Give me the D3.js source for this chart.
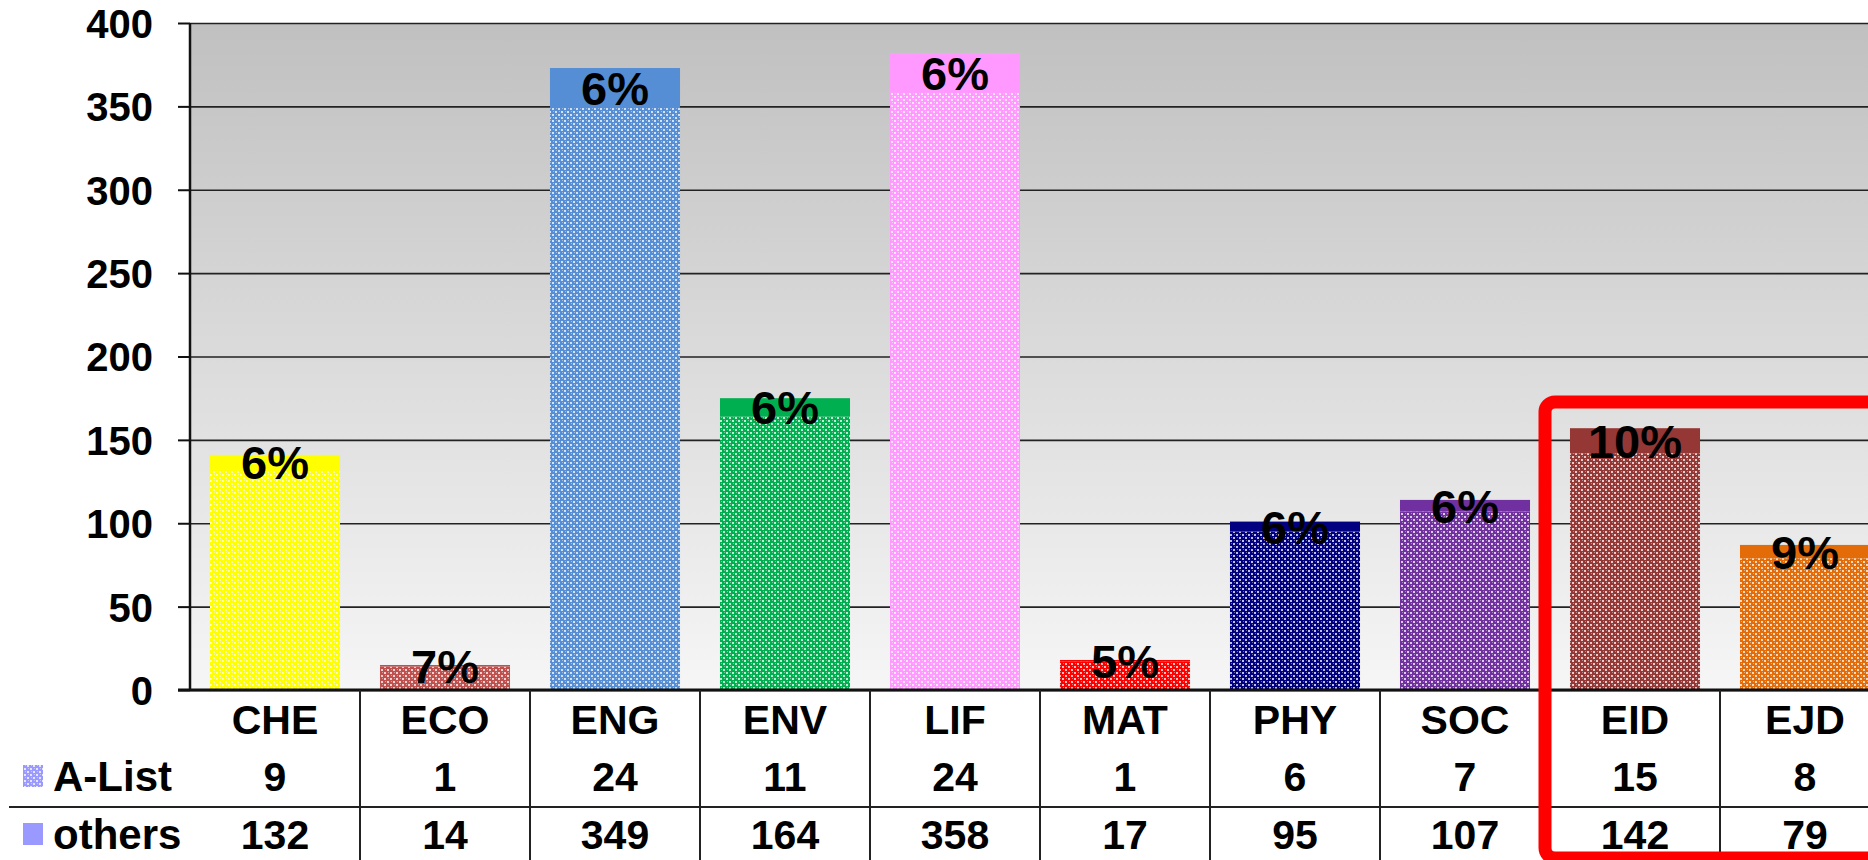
<!DOCTYPE html>
<html>
<head>
<meta charset="utf-8">
<script src="https://cdn.jsdelivr.net/npm/d3@7"></script>
<style>
  html, body { margin: 0; padding: 0; background: #fff; overflow: hidden; }
  svg { display: block; font-family: "Liberation Sans", Arial, sans-serif; font-weight: bold; }
</style>
</head>
<body>
<div id="chart"></div>
<script>
// data
const categories = ["CHE", "ECO", "ENG", "ENV", "LIF", "MAT", "PHY", "SOC", "EID", "EJD"];
const aList = [9, 1, 24, 11, 24, 1, 6, 7, 15, 8];
const others = [132, 14, 349, 164, 358, 17, 95, 107, 142, 79];
const pctLabels = ["6%", "7%", "6%", "6%", "6%", "5%", "6%", "6%", "10%", "9%"];
const barColors = ["#ffff00", "#c0504d", "#558ed5", "#00b050", "#ff99ff", "#ff0000", "#000080", "#7030a0", "#953735", "#e36c09"];
const yTicks = [0, 50, 100, 150, 200, 250, 300, 350, 400];
const seriesNames = ["A-List", "others"];
const highlighted = ["EID", "EJD"];

(function() {
    const W = 1868, H = 860;
    const plot = { left: 190, right: 1890, top: 23, bottom: 690 };

    const svg = d3.select("#chart").append("svg")
        .attr("width", W)
        .attr("height", H);

    const defs = svg.append("defs");

    const grad = defs.append("linearGradient")
        .attr("id", "bg")
        .attr("x1", 0).attr("y1", 0).attr("x2", 0).attr("y2", 1);
    grad.append("stop").attr("offset", "0%").attr("stop-color", "#c0c0c0");
    grad.append("stop").attr("offset", "100%").attr("stop-color", "#f6f6f6");

    // dotted fill used for the "others" part of every bar
    const makePattern = (id, color) => {
        const p = defs.append("pattern")
            .attr("id", id)
            .attr("patternUnits", "userSpaceOnUse")
            .attr("width", 6).attr("height", 6);
        p.append("rect").attr("width", 6).attr("height", 6).attr("fill", color);
        [[0, 0], [3, 3]].forEach(([px, py]) => {
            p.append("rect").attr("x", px).attr("y", py)
                .attr("width", 2).attr("height", 2)
                .attr("fill", "#fff").attr("opacity", 0.75);
        });
        [[1, 3], [4, 0]].forEach(([px, py]) => {
            p.append("rect").attr("x", px).attr("y", py)
                .attr("width", 1).attr("height", 1)
                .attr("fill", "#fff").attr("opacity", 0.4);
        });
    };
    barColors.forEach((c, i) => makePattern("pat" + i, c));
    makePattern("patLegend", "#9999ff");

    const x = d3.scaleBand()
        .domain(categories)
        .range([plot.left, plot.right])
        .paddingInner(0.235)
        .paddingOuter(0.1175);

    const y = d3.scaleLinear()
        .domain([0, 400])
        .range([plot.bottom, plot.top]);

    // plot background
    svg.append("rect")
        .attr("x", plot.left).attr("y", plot.top)
        .attr("width", plot.right - plot.left)
        .attr("height", plot.bottom - plot.top)
        .attr("fill", "url(#bg)");

    // gridlines
    svg.append("g")
        .attr("transform", "translate(" + plot.left + ",0)")
        .call(d3.axisLeft(y).tickValues(yTicks).tickSize(-(plot.right - plot.left)).tickFormat(""))
        .call(g => g.select(".domain").remove())
        .selectAll("line")
        .attr("stroke", "#222")
        .attr("stroke-width", 1.6);

    // bars: others at the bottom (dotted), A-List on top (solid)
    const rows = categories.map((c, i) => ({
        cat: c, i: i, a: aList[i], o: others[i], label: pctLabels[i]
    }));

    const bars = svg.append("g").selectAll("g")
        .data(rows)
        .join("g");

    bars.append("rect")
        .attr("x", d => x(d.cat))
        .attr("y", d => y(d.o))
        .attr("width", x.bandwidth())
        .attr("height", d => y(0) - y(d.o))
        .attr("fill", d => "url(#pat" + d.i + ")");

    bars.append("rect")
        .attr("x", d => x(d.cat))
        .attr("y", d => y(d.o + d.a))
        .attr("width", x.bandwidth())
        .attr("height", d => y(d.o) - y(d.o + d.a))
        .attr("fill", d => barColors[d.i]);

    bars.append("text")
        .attr("x", d => x(d.cat) + x.bandwidth() / 2)
        .attr("y", d => (y(d.o) + y(d.o + d.a)) / 2 + 17)
        .attr("text-anchor", "middle")
        .attr("font-size", 47)
        .attr("fill", "#000")
        .text(d => d.label);

    // y axis
    const yAxis = svg.append("g")
        .attr("transform", "translate(" + plot.left + ",0)")
        .call(d3.axisLeft(y).tickValues(yTicks).tickSize(12).tickPadding(25));
    yAxis.select(".domain").attr("stroke", "#111").attr("stroke-width", 2.5)
        .attr("d", "M0," + plot.top + "V" + plot.bottom);
    yAxis.selectAll(".tick line").attr("stroke", "#111").attr("stroke-width", 2);
    yAxis.selectAll("text")
        .attr("font-size", 40)
        .attr("font-family", "'Liberation Sans', Arial, sans-serif")
        .attr("font-weight", "bold")
        .attr("fill", "#000")
        .attr("dy", "0.36em");

    // x axis line (table top)
    svg.append("line")
        .attr("x1", plot.left - 12).attr("x2", W)
        .attr("y1", plot.bottom).attr("y2", plot.bottom)
        .attr("stroke", "#111").attr("stroke-width", 3);

    // data table
    const rowY = { cat: 734, a: 791, o: 849 };
    const step = x.step();
    const table = svg.append("g");

    table.selectAll(".sep")
        .data(categories.slice(1))
        .join("line")
        .attr("x1", d => x(d) - x.paddingInner() * step / 2)
        .attr("x2", d => x(d) - x.paddingInner() * step / 2)
        .attr("y1", plot.bottom).attr("y2", H)
        .attr("stroke", "#222").attr("stroke-width", 2);

    table.append("line")
        .attr("x1", 9).attr("x2", W)
        .attr("y1", 807).attr("y2", 807)
        .attr("stroke", "#222").attr("stroke-width", 2);

    const cx = d => x(d.cat) + x.bandwidth() / 2;
    table.selectAll(".cat").data(rows).join("text")
        .attr("x", cx).attr("y", rowY.cat)
        .attr("text-anchor", "middle").attr("font-size", 41)
        .text(d => d.cat);
    table.selectAll(".va").data(rows).join("text")
        .attr("x", cx).attr("y", rowY.a)
        .attr("text-anchor", "middle").attr("font-size", 41)
        .text(d => d.a);
    table.selectAll(".vo").data(rows).join("text")
        .attr("x", cx).attr("y", rowY.o)
        .attr("text-anchor", "middle").attr("font-size", 41)
        .text(d => d.o);

    // legend keys in the table
    const legY = [rowY.a, rowY.o];
    seriesNames.forEach((name, i) => {
        table.append("rect")
            .attr("x", 23).attr("y", legY[i] - 26)
            .attr("width", 20).attr("height", 22)
            .attr("fill", i === 0 ? "url(#patLegend)" : "#9999ff");
        table.append("text")
            .attr("x", 53).attr("y", legY[i])
            .attr("font-size", 42)
            .text(name);
    });

    // red highlight box round the last two categories
    const hx = x(highlighted[0]) - x.paddingInner() * step / 2 - 5;
    svg.append("rect")
        .attr("x", hx).attr("y", 402)
        .attr("width", W + 50 - hx).attr("height", 456)
        .attr("rx", 10).attr("ry", 10)
        .attr("fill", "none")
        .attr("stroke", "#ff0000")
        .attr("stroke-width", 13);
})();
</script>
</body>
</html>
